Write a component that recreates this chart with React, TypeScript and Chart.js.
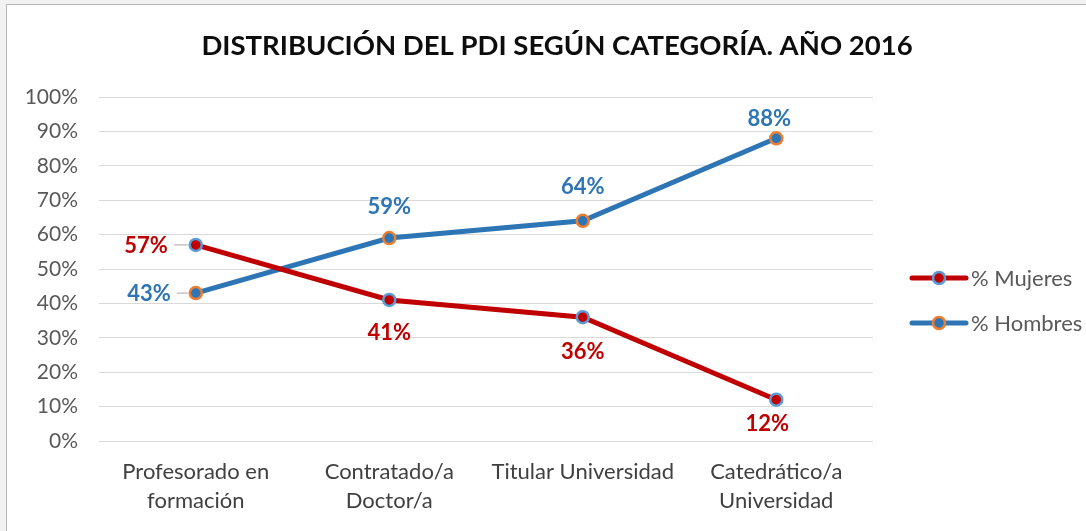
import React, { useEffect, useRef } from "react";
import { Chart, registerables } from "chart.js";

Chart.register(...registerables);

const TITLE = "DISTRIBUCIÓN DEL PDI SEGÚN CATEGORÍA. AÑO 2016";
const categories: string[][] = [
  ["Profesorado en", "formación"],
  ["Contratado/a", "Doctor/a"],
  ["Titular Universidad"],
  ["Catedrático/a", "Universidad"],
];
const mujeres = [57, 41, 36, 12];
const hombres = [43, 59, 64, 88];
const yTicks = [0, 10, 20, 30, 40, 50, 60, 70, 80, 90, 100];

// label placement (style): [dx, dy] from point; first point is placed left with a leader line
const mujeresLabelOffset = [[-999, 0], [0, 33], [0, 35], [-9, 24]];
const hombresLabelOffset = [[-999, 0], [0, -31], [0, -34], [-7, -19]];

const RED = "#c00000";
const BLUE = "#2e75b6";
const LIGHTBLUE = "#5b9bd5";
const ORANGE = "#ed7d31";
const FONT = "Lato, 'Open Sans', sans-serif";

const overlayPlugin = {
  id: "overlay",
  afterDatasetsDraw(chart: any) {
    const ctx = chart.ctx;
    ctx.save();
    chart.data.datasets.forEach((ds: any, di: number) => {
      const meta = chart.getDatasetMeta(di);
      const offs = di === 0 ? mujeresLabelOffset : hombresLabelOffset;
      meta.data.forEach((pt: any, i: number) => {
        const txt = ds.data[i] + "%";
        ctx.font = "bold 22px " + FONT;
        ctx.fillStyle = ds.borderColor;
        ctx.textBaseline = "middle";
        const [dx, dy] = offs[i];
        if (dx === -999) {
          ctx.textAlign = "right";
          ctx.fillText(txt, pt.x - (di === 0 ? 28 : 25), pt.y + 1);
          ctx.strokeStyle = "#a6a6a6";
          ctx.lineWidth = 1;
          ctx.beginPath();
          ctx.moveTo(pt.x - (di === 0 ? 22 : 19), pt.y);
          ctx.lineTo(pt.x - 8, pt.y);
          ctx.stroke();
        } else {
          ctx.textAlign = "center";
          ctx.fillText(txt, pt.x + dx, pt.y + dy);
        }
      });
    });
    ctx.restore();
  },
  afterDraw(chart: any) {
    const ctx = chart.ctx;
    ctx.save();
    ctx.font = "bold 27.5px " + FONT;
    ctx.fillStyle = "#0d0d0d";
    ctx.textAlign = "center";
    ctx.textBaseline = "middle";
    ctx.fillText(TITLE, 550, 41);
    const items = [
      { label: "% Mujeres", line: RED, fill: RED, border: LIGHTBLUE, y: 273 },
      { label: "% Hombres", line: BLUE, fill: BLUE, border: ORANGE, y: 318 },
    ];
    items.forEach((it) => {
      const x0 = 905, x1 = 959, xm = 932;
      ctx.strokeStyle = it.line;
      ctx.lineWidth = 5;
      ctx.lineCap = "round";
      ctx.beginPath();
      ctx.moveTo(x0, it.y);
      ctx.lineTo(x1, it.y);
      ctx.stroke();
      ctx.beginPath();
      ctx.arc(xm, it.y, 6, 0, Math.PI * 2);
      ctx.fillStyle = it.fill;
      ctx.fill();
      ctx.lineWidth = 2.5;
      ctx.strokeStyle = it.border;
      ctx.stroke();
      ctx.font = "22px " + FONT;
      ctx.fillStyle = "#595959";
      ctx.textAlign = "left";
      ctx.textBaseline = "middle";
      ctx.fillText(it.label, 964, it.y + 1);
    });
    ctx.restore();
  },
};

export default function App() {
  const ref = useRef<HTMLCanvasElement | null>(null);
  useEffect(() => {
    document.body.style.margin = "0";
    document.body.style.background = "#f2f2f2";
    const chart = new Chart(ref.current as HTMLCanvasElement, {
      type: "line",
      data: {
        labels: categories,
        datasets: [
          {
            label: "% Mujeres",
            data: mujeres,
            borderColor: RED,
            backgroundColor: RED,
            borderWidth: 5,
            pointRadius: 6,
            pointBorderWidth: 2.5,
            pointBackgroundColor: RED,
            pointBorderColor: LIGHTBLUE,
            tension: 0,
          },
          {
            label: "% Hombres",
            data: hombres,
            borderColor: BLUE,
            backgroundColor: BLUE,
            borderWidth: 5,
            pointRadius: 6,
            pointBorderWidth: 2.5,
            pointBackgroundColor: BLUE,
            pointBorderColor: ORANGE,
            tension: 0,
          },
        ],
      },
      options: {
        animation: false,
        responsive: false,
        layout: { padding: { top: 92, right: 213, left: 0, bottom: 0 } },
        plugins: { legend: { display: false }, tooltip: { enabled: false }, title: { display: false } },
        scales: {
          x: {
            offset: true,
            grid: { display: false, drawTicks: false },
            border: { display: false },
            ticks: {
              color: "#404040",
              font: { family: FONT, size: 22, lineHeight: 1.32 },
              padding: 16,
              maxRotation: 0,
              autoSkip: false,
            },
            afterFit(scale: any) {
              scale.height = 90;
            },
          },
          y: {
            min: 0,
            max: 100,
            afterBuildTicks(scale: any) {
              scale.ticks = yTicks.map((v) => ({ value: v }));
            },
            grid: { color: "#d9d9d9", lineWidth: 1, drawTicks: false },
            border: { display: false },
            ticks: {
              color: "#595959",
              font: { family: FONT, size: 21 },
              padding: 21,
              callback: (v: any) => v + "%",
            },
            afterFit(scale: any) {
              scale.width = 92;
            },
          },
        },
      },
      plugins: [overlayPlugin],
    });
    return () => chart.destroy();
  }, []);
  return (
    <div
      style={{
        position: "absolute",
        left: 6,
        top: 4,
        width: 1080,
        height: 527,
        background: "#fff",
        borderLeft: "1px solid #b7b7b7",
        borderTop: "1px solid #b7b7b7",
      }}
    >
      <canvas ref={ref} width={1079} height={526} style={{ display: "block" }} />
    </div>
  );
}
